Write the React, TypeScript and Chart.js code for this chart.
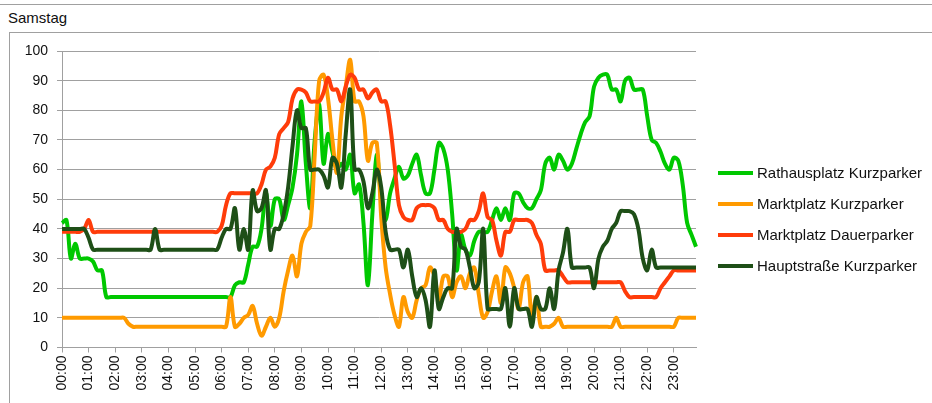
import React, { useEffect, useRef } from 'react';
import { Chart, registerables } from 'chart.js';

Chart.register(...registerables);

const hourLabels = ['00', '01', '02', '03', '04', '05', '06', '07', '08', '09', '10', '11', '12', '13', '14', '15', '16', '17', '18', '19', '20', '21', '22', '23'];
const minuteLabels = ['00', '10', '20', '30', '40', '50'];
const timeLabels = hourLabels.flatMap((h) => minuteLabels.map((m) => `${h}:${m}`));

const seriesNames = ['Rathausplatz Kurzparker', 'Marktplatz Kurzparker', 'Marktplatz Dauerparker', 'Hauptstraße Kurzparker'];
const seriesColors = ['#00c800', '#ff9a00', '#ff3c0a', '#1e4f17'];

const rathausplatzKurz = [
  42, 43, 30, 35, 30, 30, 30, 29, 26, 26, 17, 17,
  17, 17, 17, 17, 17, 17, 17, 17, 17, 17, 17, 17,
  17, 17, 17, 17, 17, 17, 17, 17, 17, 17, 17, 17,
  17, 17, 17, 21, 22, 22, 28, 34, 34, 40, 52, 41,
  50, 50, 43, 48, 54, 65, 83, 62, 47, 70, 82, 62,
  72, 66, 60, 62, 60, 65, 52, 55, 42, 21, 45, 65,
  50, 43, 52, 57, 61, 57, 58, 62, 65, 58, 52, 52,
  60, 69, 67, 60, 45, 26, 38, 33, 31, 36, 39, 39,
  39, 43, 47, 43, 47, 43, 52, 52, 49, 47, 47, 50,
  53, 62, 64, 60, 65, 63, 60, 62, 67, 72, 76, 78,
  88, 91, 92, 92, 87, 87, 83, 90, 91, 87, 87, 87,
  78, 70, 69, 66, 62, 60, 64, 63, 55, 42, 38, 34,
];

const marktplatzKurz = [
  10, 10, 10, 10, 10, 10, 10, 10, 10, 10, 10, 10,
  10, 10, 10, 8, 7, 7, 7, 7, 7, 7, 7, 7,
  7, 7, 7, 7, 7, 7, 7, 7, 7, 7, 7, 7,
  7, 7, 17, 7, 8, 10, 11, 14, 8, 4, 7, 10,
  7, 10, 19, 26, 31, 24, 35, 39, 41, 65, 90, 92,
  84, 70, 59, 78, 88, 97, 83, 83, 78, 63, 69, 69,
  44, 27, 18, 11, 7, 17, 12, 10, 16, 20, 21, 27,
  24, 16, 24, 24, 17, 22, 24, 20, 25, 27, 18, 10,
  12, 19, 24, 15, 27, 25, 20, 13, 22, 24, 10, 17,
  7, 7, 7, 8, 10, 7, 7, 7, 7, 7, 7, 7,
  7, 7, 7, 7, 7, 10, 7, 7, 7, 7, 7, 7,
  7, 7, 7, 7, 7, 7, 7, 10, 10, 10, 10, 10,
];

const marktplatzDauer = [
  39, 39, 39, 39, 39, 40, 43, 39, 39, 39, 39, 39,
  39, 39, 39, 39, 39, 39, 39, 39, 39, 39, 39, 39,
  39, 39, 39, 39, 39, 39, 39, 39, 39, 39, 39, 39,
  41, 48, 52, 52, 52, 52, 52, 52, 52, 55, 60, 61,
  64, 72, 74, 76, 84, 87, 87, 86, 83, 83, 83, 86,
  91, 87, 87, 83, 88, 92, 91, 87, 87, 84, 86, 87,
  83, 83, 75, 62, 48, 44, 43, 43, 47, 48, 48, 48,
  47, 43, 43, 40, 39, 39, 39, 40, 43, 43, 46, 52,
  44, 43, 36, 31, 39, 39, 43, 43, 43, 43, 42, 38,
  35, 26, 26, 26, 26, 24, 22, 22, 22, 22, 22, 22,
  22, 22, 22, 22, 22, 22, 22, 19, 17, 17, 17, 17,
  17, 17, 17, 20, 22, 24, 26, 26, 26, 26, 26, 26,
];

const hauptstrasseKurz = [
  40, 40, 40, 40, 40, 40, 37, 33, 33, 33, 33, 33,
  33, 33, 33, 33, 33, 33, 33, 33, 33, 40, 33, 33,
  33, 33, 33, 33, 33, 33, 33, 33, 33, 33, 33, 33,
  37, 40, 40, 47, 33, 40, 33, 53, 46, 47, 53, 33,
  40, 40, 45, 54, 68, 80, 74, 74, 60, 60, 60, 58,
  54, 64, 62, 54, 72, 87, 60, 60, 56, 47, 52, 60,
  54, 39, 33, 33, 33, 27, 33, 24, 17, 20, 16, 7,
  26, 13, 17, 20, 20, 40, 34, 33, 27, 20, 22, 40,
  13, 13, 13, 13, 20, 7, 20, 13, 13, 13, 7, 17,
  13, 13, 20, 13, 26, 32, 40, 27, 27, 27, 27, 27,
  20, 30, 34, 36, 40, 42, 46, 46, 46, 45, 40, 30,
  26, 33, 27, 27, 27, 27, 27, 27, 27, 27, 27, 27,
];

const seriesValues = [rathausplatzKurz, marktplatzKurz, marktplatzDauer, hauptstrasseKurz];

const FONT = '"Liberation Sans", Arial, sans-serif';

const sideLegend = {
  id: 'sideLegend',
  afterDraw(chart: any) {
    const ctx = chart.ctx;
    const area = chart.chartArea;
    const x0 = area.right + 22;
    ctx.save();
    chart.data.datasets.forEach((ds: any, k: number) => {
      const y = 140 + 31 * k;
      ctx.strokeStyle = ds.borderColor;
      ctx.lineWidth = 4;
      ctx.lineCap = 'butt';
      ctx.beginPath();
      ctx.moveTo(x0, y);
      ctx.lineTo(x0 + 35, y);
      ctx.stroke();
      ctx.fillStyle = '#111';
      ctx.font = `15px ${FONT}`;
      ctx.textBaseline = 'middle';
      ctx.textAlign = 'left';
      ctx.fillText(ds.label, x0 + 39, y + 1);
    });
    ctx.restore();
  },
};

export default function App() {
  const canvasRef = useRef<HTMLCanvasElement | null>(null);

  useEffect(() => {
    if (!canvasRef.current) return;
    const chart = new Chart(canvasRef.current, {
      type: 'line',
      data: {
        labels: timeLabels,
        datasets: seriesNames.map((name, k) => ({
          label: name,
          data: seriesValues[k],
          borderColor: seriesColors[k],
          backgroundColor: seriesColors[k],
          borderWidth: 4,
          pointRadius: 0,
          tension: 0.35,
          fill: false,
          order: seriesNames.length - k,
        })),
      },
      options: {
        responsive: false,
        animation: false,
        events: [],
        layout: { padding: { left: 0, right: 236, top: 18, bottom: 0 } },
        plugins: {
          legend: { display: false },
          tooltip: { enabled: false },
          title: { display: false },
        },
        scales: {
          x: {
            type: 'category',
            grid: { drawOnChartArea: false, drawTicks: true, tickLength: 5, color: '#a0a0a0' },
            border: { color: '#a0a0a0', width: 1 },
            ticks: {
              autoSkip: false,
              maxRotation: 90,
              minRotation: 90,
              padding: 3,
              color: '#111',
              font: { family: FONT, size: 14 },
              callback: (_v: any, i: number) => (i % 6 === 0 ? timeLabels[i] : null),
            },
            afterFit: (s: any) => {
              s.height = 55.5;
            },
          },
          y: {
            min: 0,
            max: 100,
            grid: { color: '#a0a0a0', tickLength: 5, lineWidth: 1 },
            border: { color: '#a0a0a0', width: 1 },
            ticks: {
              stepSize: 10,
              padding: 9,
              color: '#111',
              font: { family: FONT, size: 14 },
            },
            afterFit: (s: any) => {
              s.width = 52;
            },
          },
        },
      },
      plugins: [sideLegend],
    });
    return () => chart.destroy();
  }, []);

  return (
    <div style={{ position: 'absolute', left: 0, top: 0, width: 932, height: 403, overflow: 'hidden', background: '#fff', fontFamily: FONT }}>
      <div style={{ position: 'absolute', left: 0, top: 4, width: 932, height: 0, borderTop: '1px solid #a0a0a0' }} />
      <div style={{ position: 'absolute', left: 8, top: 9, fontSize: 15, lineHeight: '18px', color: '#111' }}>Samstag</div>
      <div style={{ position: 'absolute', left: 9, top: 32, width: 940, height: 400, border: '1px solid #a0a0a0' }} />
      <canvas ref={canvasRef} width={922} height={370} style={{ position: 'absolute', left: 10, top: 33, display: 'block' }} />
    </div>
  );
}
